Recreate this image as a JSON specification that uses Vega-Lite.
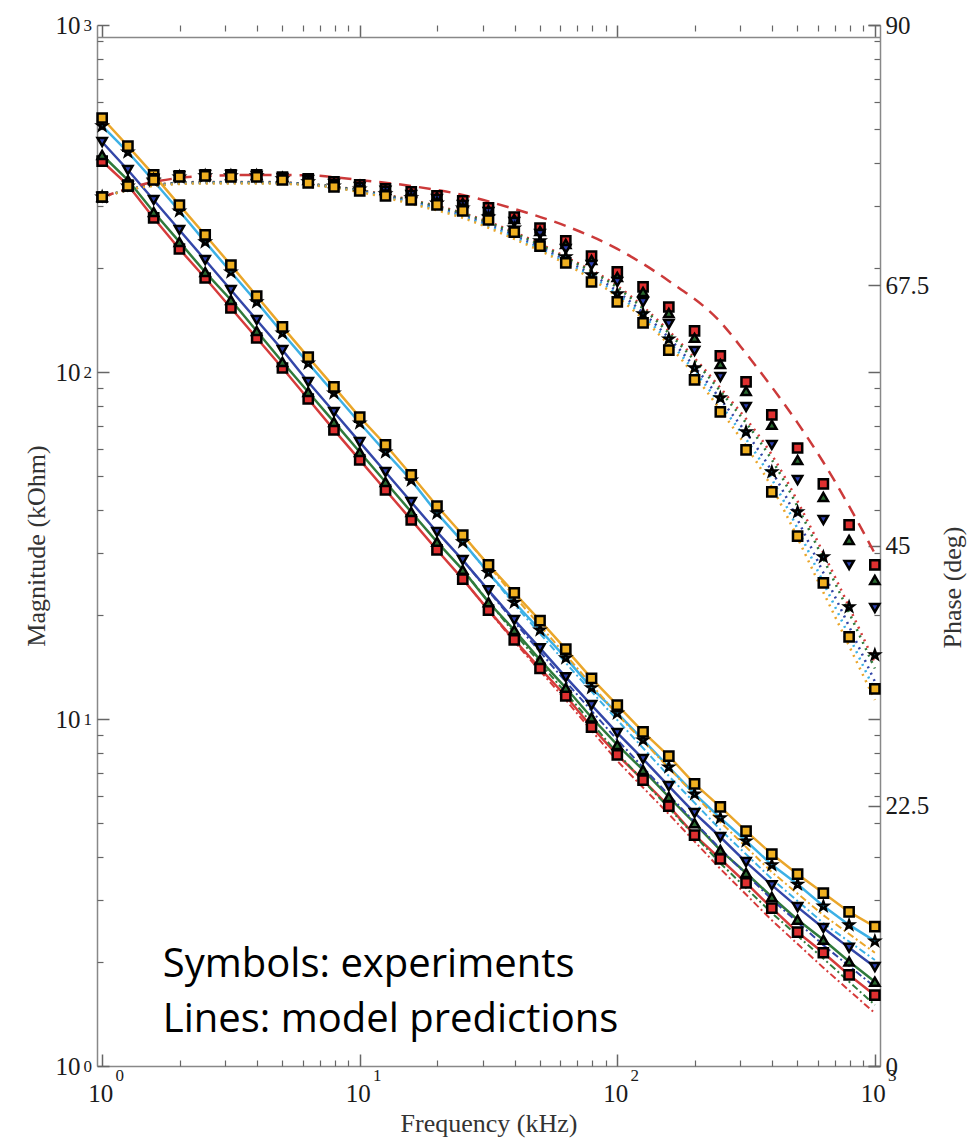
{
  "$schema": "https://vega.github.io/schema/vega-lite/v6.json",
  "width": 783,
  "height": 1041,
  "autosize": {"type": "none"},
  "padding": {"left": 97, "top": 25, "right": 91, "bottom": 72},
  "background": "white",
  "config": {
    "view": {"stroke": null},
    "axis": {"grid": false, "labelFont": "Liberation Serif", "titleFont": "Liberation Serif", "labelColor": "#1a1a1a", "titleColor": "#333333", "domainColor": "#888888", "tickColor": "#666666", "titleFontWeight": "normal", "labelFlush": false, "labelOverlap": false}
  },
  "datasets": {
    "exp": [
      {"f":1,"s":"S1","m":405,"p":75.13},{"f":1.259,"s":"S1","m":345.8,"p":76.08},{"f":1.585,"s":"S1","m":277.9,"p":76.69},{"f":1.995,"s":"S1","m":226.2,"p":76.95},{"f":2.512,"s":"S1","m":186.6,"p":77.04},{"f":3.162,"s":"S1","m":152.9,"p":77.04},{"f":3.981,"s":"S1","m":125.3,"p":77.04},{"f":5.012,"s":"S1","m":102.7,"p":76.86},{"f":6.31,"s":"S1","m":83.6,"p":76.69},{"f":7.943,"s":"S1","m":68.1,"p":76.43},{"f":10,"s":"S1","m":55.8,"p":76.17},{"f":12.59,"s":"S1","m":45.7,"p":75.83},{"f":15.85,"s":"S1","m":37.5,"p":75.57},{"f":19.95,"s":"S1","m":30.7,"p":75.22},{"f":25.12,"s":"S1","m":25.3,"p":74.79},{"f":31.62,"s":"S1","m":20.6,"p":74.18},{"f":39.81,"s":"S1","m":16.9,"p":73.4},{"f":50.12,"s":"S1","m":14.0,"p":72.45},{"f":63.1,"s":"S1","m":11.65,"p":71.33},{"f":79.43,"s":"S1","m":9.48,"p":70.03},{"f":100,"s":"S1","m":7.88,"p":68.65},{"f":125.9,"s":"S1","m":6.67,"p":67.35},{"f":158.5,"s":"S1","m":5.61,"p":65.62},{"f":199.5,"s":"S1","m":4.63,"p":63.55},{"f":251.2,"s":"S1","m":3.95,"p":61.39},{"f":316.2,"s":"S1","m":3.37,"p":59.14},{"f":398.1,"s":"S1","m":2.85,"p":56.29},{"f":501.2,"s":"S1","m":2.43,"p":53.43},{"f":631,"s":"S1","m":2.12,"p":50.32},{"f":794.3,"s":"S1","m":1.83,"p":46.78},{"f":1000,"s":"S1","m":1.6,"p":43.32},
      {"f":1,"s":"S2","m":422.1,"p":75.13},{"f":1.259,"s":"S2","m":357.5,"p":76.08},{"f":1.585,"s":"S2","m":289.1,"p":76.69},{"f":1.995,"s":"S2","m":237.1,"p":76.95},{"f":2.512,"s":"S2","m":194.1,"p":77.04},{"f":3.162,"s":"S2","m":161.3,"p":77.04},{"f":3.981,"s":"S2","m":131.3,"p":77.04},{"f":5.012,"s":"S2","m":106.9,"p":76.86},{"f":6.31,"s":"S2","m":87.6,"p":76.6},{"f":7.943,"s":"S2","m":71.8,"p":76.34},{"f":10,"s":"S2","m":58.8,"p":76.08},{"f":12.59,"s":"S2","m":48.2,"p":75.74},{"f":15.85,"s":"S2","m":39.5,"p":75.48},{"f":19.95,"s":"S2","m":32.4,"p":75.14},{"f":25.12,"s":"S2","m":26.9,"p":74.62},{"f":31.62,"s":"S2","m":21.7,"p":74.01},{"f":39.81,"s":"S2","m":18.05,"p":73.23},{"f":50.12,"s":"S2","m":14.8,"p":72.19},{"f":63.1,"s":"S2","m":12.3,"p":71.07},{"f":79.43,"s":"S2","m":10.1,"p":69.68},{"f":100,"s":"S2","m":8.42,"p":68.22},{"f":125.9,"s":"S2","m":7.13,"p":66.92},{"f":158.5,"s":"S2","m":5.96,"p":65.1},{"f":199.5,"s":"S2","m":5.01,"p":62.95},{"f":251.2,"s":"S2","m":4.19,"p":60.7},{"f":316.2,"s":"S2","m":3.6,"p":58.36},{"f":398.1,"s":"S2","m":3.07,"p":55.43},{"f":501.2,"s":"S2","m":2.64,"p":52.39},{"f":631,"s":"S2","m":2.31,"p":49.2},{"f":794.3,"s":"S2","m":2.0,"p":45.48},{"f":1000,"s":"S2","m":1.75,"p":42.02},
      {"f":1,"s":"S3","m":460.1,"p":75.13},{"f":1.259,"s":"S3","m":382.0,"p":76.08},{"f":1.585,"s":"S3","m":313.1,"p":76.69},{"f":1.995,"s":"S3","m":256.6,"p":76.95},{"f":2.512,"s":"S3","m":210.3,"p":77.04},{"f":3.162,"s":"S3","m":172.3,"p":77.04},{"f":3.981,"s":"S3","m":141.2,"p":76.95},{"f":5.012,"s":"S3","m":115.7,"p":76.77},{"f":6.31,"s":"S3","m":93.6,"p":76.6},{"f":7.943,"s":"S3","m":76.7,"p":76.26},{"f":10,"s":"S3","m":62.8,"p":76.0},{"f":12.59,"s":"S3","m":51.5,"p":75.66},{"f":15.85,"s":"S3","m":42.2,"p":75.31},{"f":19.95,"s":"S3","m":34.6,"p":74.96},{"f":25.12,"s":"S3","m":28.7,"p":74.44},{"f":31.62,"s":"S3","m":23.5,"p":73.83},{"f":39.81,"s":"S3","m":19.3,"p":72.97},{"f":50.12,"s":"S3","m":16.0,"p":71.93},{"f":63.1,"s":"S3","m":13.2,"p":70.64},{"f":79.43,"s":"S3","m":10.97,"p":69.25},{"f":100,"s":"S3","m":9.12,"p":67.79},{"f":125.9,"s":"S3","m":7.67,"p":66.05},{"f":158.5,"s":"S3","m":6.41,"p":64.15},{"f":199.5,"s":"S3","m":5.36,"p":61.82},{"f":251.2,"s":"S3","m":4.57,"p":59.57},{"f":316.2,"s":"S3","m":3.87,"p":56.98},{"f":398.1,"s":"S3","m":3.32,"p":53.7},{"f":501.2,"s":"S3","m":2.87,"p":50.66},{"f":631,"s":"S3","m":2.5,"p":47.21},{"f":794.3,"s":"S3","m":2.19,"p":43.32},{"f":1000,"s":"S3","m":1.93,"p":39.6},
      {"f":1,"s":"S4","m":511.7,"p":75.13},{"f":1.259,"s":"S4","m":430.5,"p":76.08},{"f":1.585,"s":"S4","m":355.1,"p":76.6},{"f":1.995,"s":"S4","m":291.1,"p":76.86},{"f":2.512,"s":"S4","m":237.1,"p":76.95},{"f":3.162,"s":"S4","m":194.1,"p":76.95},{"f":3.981,"s":"S4","m":159.2,"p":76.95},{"f":5.012,"s":"S4","m":129.5,"p":76.69},{"f":6.31,"s":"S4","m":106.1,"p":76.43},{"f":7.943,"s":"S4","m":87.0,"p":76.08},{"f":10,"s":"S4","m":71.3,"p":75.82},{"f":12.59,"s":"S4","m":58.8,"p":75.4},{"f":15.85,"s":"S4","m":48.8,"p":75.05},{"f":19.95,"s":"S4","m":39.2,"p":74.61},{"f":25.12,"s":"S4","m":32.4,"p":74.18},{"f":31.62,"s":"S4","m":26.4,"p":73.4},{"f":39.81,"s":"S4","m":21.7,"p":72.45},{"f":50.12,"s":"S4","m":18.05,"p":71.33},{"f":63.1,"s":"S4","m":15.0,"p":69.95},{"f":79.43,"s":"S4","m":12.3,"p":68.39},{"f":100,"s":"S4","m":10.4,"p":66.75},{"f":125.9,"s":"S4","m":8.7,"p":65.02},{"f":158.5,"s":"S4","m":7.27,"p":62.85},{"f":199.5,"s":"S4","m":6.08,"p":60.35},{"f":251.2,"s":"S4","m":5.19,"p":57.76},{"f":316.2,"s":"S4","m":4.45,"p":54.82},{"f":398.1,"s":"S4","m":3.8,"p":51.36},{"f":501.2,"s":"S4","m":3.34,"p":47.9},{"f":631,"s":"S4","m":2.89,"p":44.01},{"f":794.3,"s":"S4","m":2.55,"p":39.69},{"f":1000,"s":"S4","m":2.29,"p":35.54},
      {"f":1,"s":"S5","m":539.5,"p":75.13},{"f":1.259,"s":"S5","m":447.7,"p":76.08},{"f":1.585,"s":"S5","m":369.8,"p":76.6},{"f":1.995,"s":"S5","m":302.7,"p":76.86},{"f":2.512,"s":"S5","m":248.3,"p":76.95},{"f":3.162,"s":"S5","m":203.2,"p":76.87},{"f":3.981,"s":"S5","m":165.6,"p":76.87},{"f":5.012,"s":"S5","m":134.9,"p":76.6},{"f":6.31,"s":"S5","m":110.4,"p":76.34},{"f":7.943,"s":"S5","m":90.6,"p":76.0},{"f":10,"s":"S5","m":74.1,"p":75.65},{"f":12.59,"s":"S5","m":61.7,"p":75.22},{"f":15.85,"s":"S5","m":50.5,"p":74.88},{"f":19.95,"s":"S5","m":41.1,"p":74.44},{"f":25.12,"s":"S5","m":33.9,"p":73.93},{"f":31.62,"s":"S5","m":27.8,"p":73.14},{"f":39.81,"s":"S5","m":23.1,"p":72.1},{"f":50.12,"s":"S5","m":19.2,"p":70.89},{"f":63.1,"s":"S5","m":15.9,"p":69.43},{"f":79.43,"s":"S5","m":13.1,"p":67.78},{"f":100,"s":"S5","m":10.97,"p":66.06},{"f":125.9,"s":"S5","m":9.18,"p":64.24},{"f":158.5,"s":"S5","m":7.82,"p":61.9},{"f":199.5,"s":"S5","m":6.5,"p":59.31},{"f":251.2,"s":"S5","m":5.58,"p":56.55},{"f":316.2,"s":"S5","m":4.75,"p":53.26},{"f":398.1,"s":"S5","m":4.08,"p":49.63},{"f":501.2,"s":"S5","m":3.57,"p":45.82},{"f":631,"s":"S5","m":3.15,"p":41.76},{"f":794.3,"s":"S5","m":2.78,"p":37.1},{"f":1000,"s":"S5","m":2.52,"p":32.6}
    ],
    "mag2": [
      {"f":25.12,"s":"S1","m":25.3},{"f":39.81,"s":"S1","m":16.7},{"f":63.1,"s":"S1","m":11.34},{"f":100,"s":"S1","m":7.57},{"f":158.5,"s":"S1","m":5.32},{"f":251.2,"s":"S1","m":3.7},{"f":398.1,"s":"S1","m":2.63},{"f":631,"s":"S1","m":1.92},{"f":1000,"s":"S1","m":1.42},
      {"f":25.12,"s":"S2","m":26.9},{"f":39.81,"s":"S2","m":17.7},{"f":63.1,"s":"S2","m":11.9},{"f":100,"s":"S2","m":7.98},{"f":158.5,"s":"S2","m":5.54},{"f":251.2,"s":"S2","m":3.84},{"f":398.1,"s":"S2","m":2.76},{"f":631,"s":"S2","m":2.04},{"f":1000,"s":"S2","m":1.5},
      {"f":25.12,"s":"S3","m":28.7},{"f":39.81,"s":"S3","m":19.05},{"f":63.1,"s":"S3","m":12.8},{"f":100,"s":"S3","m":8.71},{"f":158.5,"s":"S3","m":6.04},{"f":251.2,"s":"S3","m":4.22},{"f":398.1,"s":"S3","m":3.02},{"f":631,"s":"S3","m":2.23},{"f":1000,"s":"S3","m":1.69},
      {"f":25.12,"s":"S4","m":32.4},{"f":39.81,"s":"S4","m":21.4},{"f":63.1,"s":"S4","m":14.5},{"f":100,"s":"S4","m":9.93},{"f":158.5,"s":"S4","m":6.85},{"f":251.2,"s":"S4","m":4.8},{"f":398.1,"s":"S4","m":3.46},{"f":631,"s":"S4","m":2.58},{"f":1000,"s":"S4","m":2.02},
      {"f":25.12,"s":"S5","m":33.9},{"f":39.81,"s":"S5","m":22.6},{"f":63.1,"s":"S5","m":15.3},{"f":100,"s":"S5","m":10.3},{"f":158.5,"s":"S5","m":7.23},{"f":251.2,"s":"S5","m":5.05},{"f":398.1,"s":"S5","m":3.62},{"f":631,"s":"S5","m":2.72},{"f":1000,"s":"S5","m":2.12}
    ],
    "phm": [
      {"f":1,"s":"S1","p":75.13},{"f":1.585,"s":"S1","p":76.17},{"f":2.512,"s":"S1","p":76.43},{"f":3.981,"s":"S1","p":76.43},{"f":6.31,"s":"S1","p":76.26},{"f":10,"s":"S1","p":75.73},{"f":15.85,"s":"S1","p":74.87},{"f":25.12,"s":"S1","p":73.75},{"f":39.81,"s":"S1","p":72.1},{"f":63.1,"s":"S1","p":69.95},{"f":100,"s":"S1","p":67.44},{"f":158.5,"s":"S1","p":63.55},{"f":251.2,"s":"S1","p":58.62},{"f":398.1,"s":"S1","p":52.83},{"f":631,"s":"S1","p":44.35},{"f":1000,"s":"S1","p":34.84},
      {"f":1,"s":"S2","p":75.13},{"f":1.585,"s":"S2","p":76.16},{"f":2.512,"s":"S2","p":76.41},{"f":3.981,"s":"S2","p":76.41},{"f":6.31,"s":"S2","p":76.25},{"f":10,"s":"S2","p":75.7},{"f":15.85,"s":"S2","p":74.82},{"f":25.12,"s":"S2","p":73.69},{"f":39.81,"s":"S2","p":72.01},{"f":63.1,"s":"S2","p":69.86},{"f":100,"s":"S2","p":67.3},{"f":158.5,"s":"S2","p":63.37},{"f":251.2,"s":"S2","p":58.34},{"f":398.1,"s":"S2","p":52.41},{"f":631,"s":"S2","p":43.84},{"f":1000,"s":"S2","p":34.36},
      {"f":1,"s":"S3","p":75.13},{"f":1.585,"s":"S3","p":76.14},{"f":2.512,"s":"S3","p":76.37},{"f":3.981,"s":"S3","p":76.37},{"f":6.31,"s":"S3","p":76.22},{"f":10,"s":"S3","p":75.65},{"f":15.85,"s":"S3","p":74.7},{"f":25.12,"s":"S3","p":73.54},{"f":39.81,"s":"S3","p":71.8},{"f":63.1,"s":"S3","p":69.65},{"f":100,"s":"S3","p":66.97},{"f":158.5,"s":"S3","p":62.95},{"f":251.2,"s":"S3","p":57.67},{"f":398.1,"s":"S3","p":51.43},{"f":631,"s":"S3","p":42.65},{"f":1000,"s":"S3","p":33.24},
      {"f":1,"s":"S4","p":75.13},{"f":1.585,"s":"S4","p":76.12},{"f":2.512,"s":"S4","p":76.33},{"f":3.981,"s":"S4","p":76.33},{"f":6.31,"s":"S4","p":76.19},{"f":10,"s":"S4","p":75.6},{"f":15.85,"s":"S4","p":74.62},{"f":25.12,"s":"S4","p":73.43},{"f":39.81,"s":"S4","p":71.65},{"f":63.1,"s":"S4","p":69.49},{"f":100,"s":"S4","p":66.73},{"f":158.5,"s":"S4","p":62.64},{"f":251.2,"s":"S4","p":57.2},{"f":398.1,"s":"S4","p":50.73},{"f":631,"s":"S4","p":41.8},{"f":1000,"s":"S4","p":32.44},
      {"f":1,"s":"S5","p":75.13},{"f":1.585,"s":"S5","p":76.1},{"f":2.512,"s":"S5","p":76.3},{"f":3.981,"s":"S5","p":76.3},{"f":6.31,"s":"S5","p":76.17},{"f":10,"s":"S5","p":75.56},{"f":15.85,"s":"S5","p":74.53},{"f":25.12,"s":"S5","p":73.32},{"f":39.81,"s":"S5","p":71.5},{"f":63.1,"s":"S5","p":69.34},{"f":100,"s":"S5","p":66.49},{"f":158.5,"s":"S5","p":62.34},{"f":251.2,"s":"S5","p":56.72},{"f":398.1,"s":"S5","p":50.03},{"f":631,"s":"S5","p":40.95},{"f":1000,"s":"S5","p":31.64}
    ],
    "phd": [
      {"f":1,"p":75.13},{"f":1.585,"p":76.43},{"f":2.512,"p":76.95},{"f":3.981,"p":77.04},{"f":6.31,"p":77.0},{"f":10,"p":76.6},{"f":15.85,"p":76.08},{"f":25.12,"p":75.31},{"f":39.81,"p":74.1},{"f":63.1,"p":72.63},{"f":100,"p":70.64},{"f":158.5,"p":67.87},{"f":251.2,"p":64.33},{"f":316.2,"p":61.6},{"f":398.1,"p":58.7},{"f":501.2,"p":55.6},{"f":631,"p":52.2},{"f":794.3,"p":48.4},{"f":1000,"p":44.3}
    ],
    "notes": [
      {"note": "Symbols: experiments\nLines: model predictions"}
    ]
  },
  "resolve": {"scale": {"y": "independent"}, "axis": {"x": "independent", "y": "independent"}},
  "layer": [
    {
      "resolve": {"axis": {"x": "independent", "y": "independent"}},
      "layer": [
        {
          "data": {"name": "exp"},
          "mark": {"type": "line", "strokeWidth": 2.5},
          "encoding": {
            "x": {"field": "f", "type": "quantitative", "scale": {"type": "log", "domain": [0.955, 1047], "nice": false},
              "axis": {"orient": "bottom", "values": [1, 10, 100, 1000], "labelExpr": "'10'", "ticks": false, "domain": true, "domainWidth": 1.5, "labelFontSize": 25, "labelPadding": 15, "labelAlign": "center", "labelOffset": -2, "title": "Frequency (kHz)", "titleFontSize": 26, "titlePadding": 4}},
            "y": {"field": "m", "type": "quantitative", "scale": {"type": "log", "domain": [1, 1000], "nice": false},
              "axis": {"orient": "left", "values": [1, 10, 100, 1000], "labelExpr": "'10'", "ticks": false, "domain": true, "domainWidth": 1.5, "labelFontSize": 25, "labelPadding": 17, "labelBaseline": "middle", "title": "Magnitude (kOhm)", "titleFontSize": 26, "titlePadding": 6}},
            "color": {"field": "s", "type": "nominal", "scale": {"domain": ["S1", "S2", "S3", "S4", "S5"], "range": ["#d63b3b", "#2f7a3b", "#3346a8", "#3cb0e6", "#eaa62a"]}, "legend": null}
          }
        },
        {
          "data": {"name": "mag2"},
          "mark": {"type": "line", "strokeWidth": 2, "strokeDash": [7, 3, 2, 3]},
          "encoding": {
            "x": {"field": "f", "type": "quantitative",
              "axis": {"orient": "bottom", "values": [1, 10, 100, 1000], "labelExpr": "datum.value < 5 ? '0' : datum.value < 50 ? '1' : datum.value < 500 ? '2' : '3'", "ticks": false, "domain": false, "labelFontSize": 17, "labelAlign": "center", "labelOffset": 17, "labelPadding": 1, "title": null}},
            "y": {"field": "m", "type": "quantitative",
              "axis": {"orient": "left", "values": [1, 10, 100, 1000], "labelExpr": "datum.value < 5 ? '0' : datum.value < 50 ? '1' : datum.value < 500 ? '2' : '3'", "ticks": false, "domain": false, "labelFontSize": 17, "labelAlign": "left", "labelPadding": 14, "labelDy": -11, "labelBaseline": "middle", "title": null}},
            "color": {"field": "s", "type": "nominal", "legend": null}
          }
        },
        {
          "data": {"name": "exp"},
          "mark": {"type": "point", "filled": true, "size": 85, "stroke": "black", "strokeWidth": 2.5, "opacity": 1},
          "encoding": {
            "x": {"field": "f", "type": "quantitative",
              "axis": {"orient": "bottom", "values": [1, 10, 100, 1000], "labels": false, "domain": false, "ticks": true, "tickSize": 12, "offset": -12, "tickWidth": 1.5, "title": null}},
            "y": {"field": "m", "type": "quantitative",
              "axis": {"orient": "left", "values": [1, 10, 100, 1000], "labels": false, "domain": false, "ticks": true, "tickSize": 12, "offset": -12, "tickWidth": 1.5, "title": null}},
            "fill": {"field": "s", "type": "nominal", "scale": {"domain": ["S1", "S2", "S3", "S4", "S5"], "range": ["#e03030", "#2a6b30", "#2c3fb0", "#3aaee0", "#f0b020"]}, "legend": null},
            "shape": {"field": "s", "type": "nominal", "scale": {"domain": ["S1", "S2", "S3", "S4", "S5"], "range": ["square", "triangle-up", "triangle-down", "M0,-1L0.235,-0.324L0.951,-0.309L0.38,0.124L0.588,0.809L0,0.4L-0.588,0.809L-0.38,0.124L-0.951,-0.309L-0.235,-0.324Z", "square"]}, "legend": null}
          }
        },
        {
          "data": {"name": "notes"},
          "mark": {"type": "text", "align": "left", "baseline": "alphabetic", "lineBreak": "\n", "font": "Open Sans", "fontSize": 40, "lineHeight": 55, "color": "black"},
          "encoding": {
            "text": {"field": "note", "type": "nominal"},
            "x": {"datum": 1.72, "type": "quantitative",
              "axis": {"orient": "bottom", "values": [2, 3, 4, 5, 6, 7, 8, 9, 20, 30, 40, 50, 60, 70, 80, 90, 200, 300, 400, 500, 600, 700, 800, 900], "labels": false, "domain": false, "ticks": true, "tickSize": 6, "offset": -6, "tickWidth": 1.2, "title": null}},
            "y": {"datum": 1.805, "type": "quantitative",
              "axis": {"orient": "left", "values": [2, 3, 4, 5, 6, 7, 8, 9, 20, 30, 40, 50, 60, 70, 80, 90, 200, 300, 400, 500, 600, 700, 800, 900], "labels": false, "domain": false, "ticks": true, "tickSize": 6, "offset": -6, "tickWidth": 1.2, "title": null}}
          }
        },
        {
          "data": {"name": "exp"},
          "mark": {"type": "point", "opacity": 0},
          "encoding": {
            "x": {"field": "f", "type": "quantitative",
              "axis": {"orient": "top", "values": [1, 10, 100, 1000], "labels": false, "domain": true, "domainWidth": 1.5, "ticks": true, "tickSize": 12, "offset": -12, "tickWidth": 1.5, "title": null}},
            "y": {"field": "m", "type": "quantitative",
              "axis": {"orient": "right", "values": [1, 10, 100, 1000], "labels": false, "domain": false, "ticks": true, "tickSize": 12, "offset": -12, "tickWidth": 1.5, "title": null}}
          }
        },
        {
          "data": {"name": "exp"},
          "mark": {"type": "point", "opacity": 0},
          "encoding": {
            "x": {"field": "f", "type": "quantitative",
              "axis": {"orient": "top", "values": [2, 3, 4, 5, 6, 7, 8, 9, 20, 30, 40, 50, 60, 70, 80, 90, 200, 300, 400, 500, 600, 700, 800, 900], "labels": false, "domain": false, "ticks": true, "tickSize": 6, "offset": -6, "tickWidth": 1.2, "title": null}},
            "y": {"field": "m", "type": "quantitative",
              "axis": {"orient": "right", "values": [2, 3, 4, 5, 6, 7, 8, 9, 20, 30, 40, 50, 60, 70, 80, 90, 200, 300, 400, 500, 600, 700, 800, 900], "labels": false, "domain": false, "ticks": true, "tickSize": 6, "offset": -6, "tickWidth": 1.2, "title": null}}
          }
        }
      ]
    },
    {
      "resolve": {"axis": {"x": "independent", "y": "independent"}},
      "layer": [
        {
          "data": {"name": "phm"},
          "mark": {"type": "line", "strokeWidth": 2.5, "strokeDash": [2, 5], "interpolate": "monotone"},
          "encoding": {
            "x": {"field": "f", "type": "quantitative", "scale": {"type": "log", "domain": [0.955, 1047], "nice": false}, "axis": null},
            "y": {"field": "p", "type": "quantitative", "scale": {"domain": [0, 90], "nice": false},
              "axis": {"orient": "right", "values": [0, 22.5, 45, 67.5, 90], "format": ".1~f", "ticks": false, "domain": true, "domainWidth": 1.5, "labelFontSize": 25, "labelPadding": 5, "labelBaseline": "middle", "title": "Phase (deg)", "titleFontSize": 26, "titleAngle": 270, "titleX": 72, "titleY": 562, "titleAlign": "center", "titleBaseline": "middle"}},
            "color": {"field": "s", "type": "nominal", "legend": null}
          }
        },
        {
          "data": {"name": "phd"},
          "mark": {"type": "line", "strokeWidth": 2.5, "strokeDash": [12, 8], "color": "#cc3a3a", "interpolate": "monotone"},
          "encoding": {
            "x": {"field": "f", "type": "quantitative", "axis": null},
            "y": {"field": "p", "type": "quantitative",
              "axis": {"orient": "right", "values": [0, 22.5, 45, 67.5, 90], "labels": false, "domain": false, "ticks": true, "tickSize": 12, "offset": -12, "tickWidth": 1.5, "title": null}}
          }
        },
        {
          "data": {"name": "exp"},
          "mark": {"type": "point", "filled": true, "size": 85, "stroke": "black", "strokeWidth": 2.5, "opacity": 1},
          "encoding": {
            "x": {"field": "f", "type": "quantitative", "axis": null},
            "y": {"field": "p", "type": "quantitative", "axis": null},
            "fill": {"field": "s", "type": "nominal", "legend": null},
            "shape": {"field": "s", "type": "nominal", "legend": null}
          }
        }
      ]
    }
  ]
}
